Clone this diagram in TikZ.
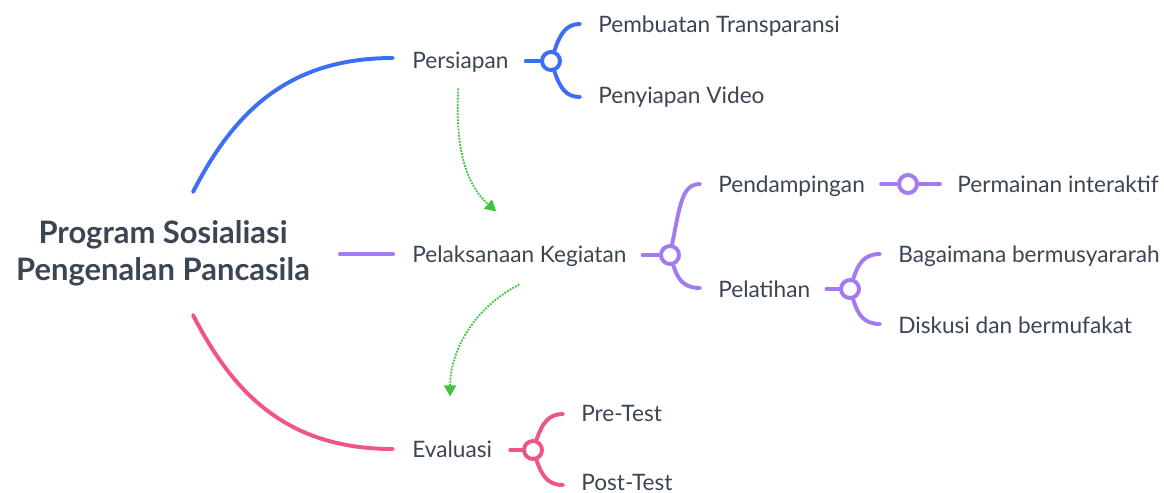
\documentclass[tikz,border=0pt]{standalone}
\usepackage{fontspec}
\setmainfont{Lato}
\usetikzlibrary{arrows.meta,calc}
\definecolor{txtgray}{HTML}{3C4653}
\definecolor{mapblue}{HTML}{3D6EF5}
\definecolor{mappurple}{HTML}{A37BF0}
\definecolor{mappink}{HTML}{F0548A}
\definecolor{mapgreen}{HTML}{3EC43E}
\tikzset{
  topic/.style={anchor=west,inner sep=0pt,text=txtgray,font=\fontsize{16.1}{20}\selectfont,text height=11.6pt,text depth=0pt},
  central/.style={align=center,inner sep=0pt,text=txtgray,font=\fontsize{22}{26.5}\selectfont\bfseries},
  joint/.style={circle,draw=#1,line width=2.8pt,fill=white,inner sep=0pt,minimum size=0.45cm},
  branch/.style={draw=#1,line width=2.8pt,line cap=round},
  flow/.style={draw=mapgreen,line width=1.3pt,dash pattern=on 1.3pt off 0.9pt,-{Triangle[length=8pt,width=8.5pt]}},
}
\begin{document}
\begin{tikzpicture}[x=0.025cm,y=-0.025cm]
        \useasboundingbox (0,0) rectangle (1164,493);
        %% Central topic
        \node[central] (R) at (163,253) {Program Sosialiasi\\Pengenalan Pancasila};
        \coordinate (rTop) at (193,192);
        \coordinate (rMid) at (340,254);
        \coordinate (rBot) at (193,315);
        %% Main topics
        \node[topic] (Ps) at (412,60) {Persiapan};
        \node[topic] (Pk) at (412,254) {Pelaksanaan Kegiatan};
        \node[topic] (Ev) at (412,449) {Evaluasi};
        %% Subtopics
        \node[topic] (Ps1) at (598,24) {Pembuatan Transparansi};
        \node[topic] (Ps2) at (598,95) {Penyiapan Video};
        \node[topic] (Pk1) at (718,184) {Pendampingan};
        \node[topic] (Pk2) at (718,289) {Pelatihan};
        \node[topic] (Pk11) at (957,184) {Permainan interaktif};
        \node[topic] (Pk21) at (898,254) {Bagaimana bermusyararah};
        \node[topic] (Pk22) at (898,325) {Diskusi dan bermufakat};
        \node[topic] (Ev1) at (581,413) {Pre-Test};
        \node[topic] (Ev2) at (581,482) {Post-Test};
        %% Joints
        \node[joint=mapblue] (J1) at (551,61) {};
        \node[joint=mappurple] (J2) at (670,255) {};
        \node[joint=mappurple] (J3) at (850,289) {};
        \node[joint=mappurple] (J4) at (908,184) {};
        \node[joint=mappink] (J5) at (533,450) {};
        %% Branch ends
        \coordinate (e1) at (580,24);
        \coordinate (e2) at (580,97);
        \coordinate (e3) at (700,184);
        \coordinate (e4) at (700,288);
        \coordinate (e5) at (880,254);
        \coordinate (e6) at (880,324);
        \coordinate (e7) at (940,184);
        \coordinate (e8) at (563,414);
        \coordinate (e9) at (563,485);
        %% Curves from the centre
        \draw[branch=mapblue] (rTop) .. controls (235,110) and (290,58) .. ($(Ps.west)+(-19,-2)$);
        \draw[branch=mappurple] (rMid) -- ($(Pk.west)+(-19,0)$);
        \draw[branch=mappink] (rBot) .. controls (235,397) and (290,449) .. ($(Ev.west)+(-19,0)$);
        %% Persiapan
        \draw[branch=mapblue] ($(Ps.east)+(17,1)$) -- (J1);
        \draw[branch=mapblue] (J1) .. controls (560,34) and (566,24) .. (e1);
        \draw[branch=mapblue] (J1) .. controls (560,88) and (566,97) .. (e2);
        %% Pelaksanaan Kegiatan
        \draw[branch=mappurple] ($(Pk.east)+(16,1)$) -- (J2);
        \draw[branch=mappurple] (J2) .. controls (680,205) and (682,184) .. (e3);
        \draw[branch=mappurple] (J2) .. controls (678,280) and (684,288) .. (e4);
        \draw[branch=mappurple] ($(Pk1.east)+(16,0)$) -- (J4) -- (e7);
        \draw[branch=mappurple] ($(Pk2.east)+(16,0)$) -- (J3);
        \draw[branch=mappurple] (J3) .. controls (858,264) and (864,254) .. (e5);
        \draw[branch=mappurple] (J3) .. controls (858,315) and (864,324) .. (e6);
        %% Evaluasi
        \draw[branch=mappink] ($(Ev.east)+(18,1)$) -- (J5);
        \draw[branch=mappink] (J5) .. controls (542,424) and (548,414) .. (e8);
        \draw[branch=mappink] (J5) .. controls (542,476) and (548,485) .. (e9);
        %% Flow arrows
        \draw[flow] ($(Ps.south)+(-2,20)$) .. controls (454,160) and (472,190) .. ($(Pk.north)+(-23,-34)$);
        \draw[flow] ($(Pk.south)+(0,22)$) .. controls (470,310) and (450,355) .. ($(Ev.north)+(-2,-44)$);
\end{tikzpicture}
\end{document}
